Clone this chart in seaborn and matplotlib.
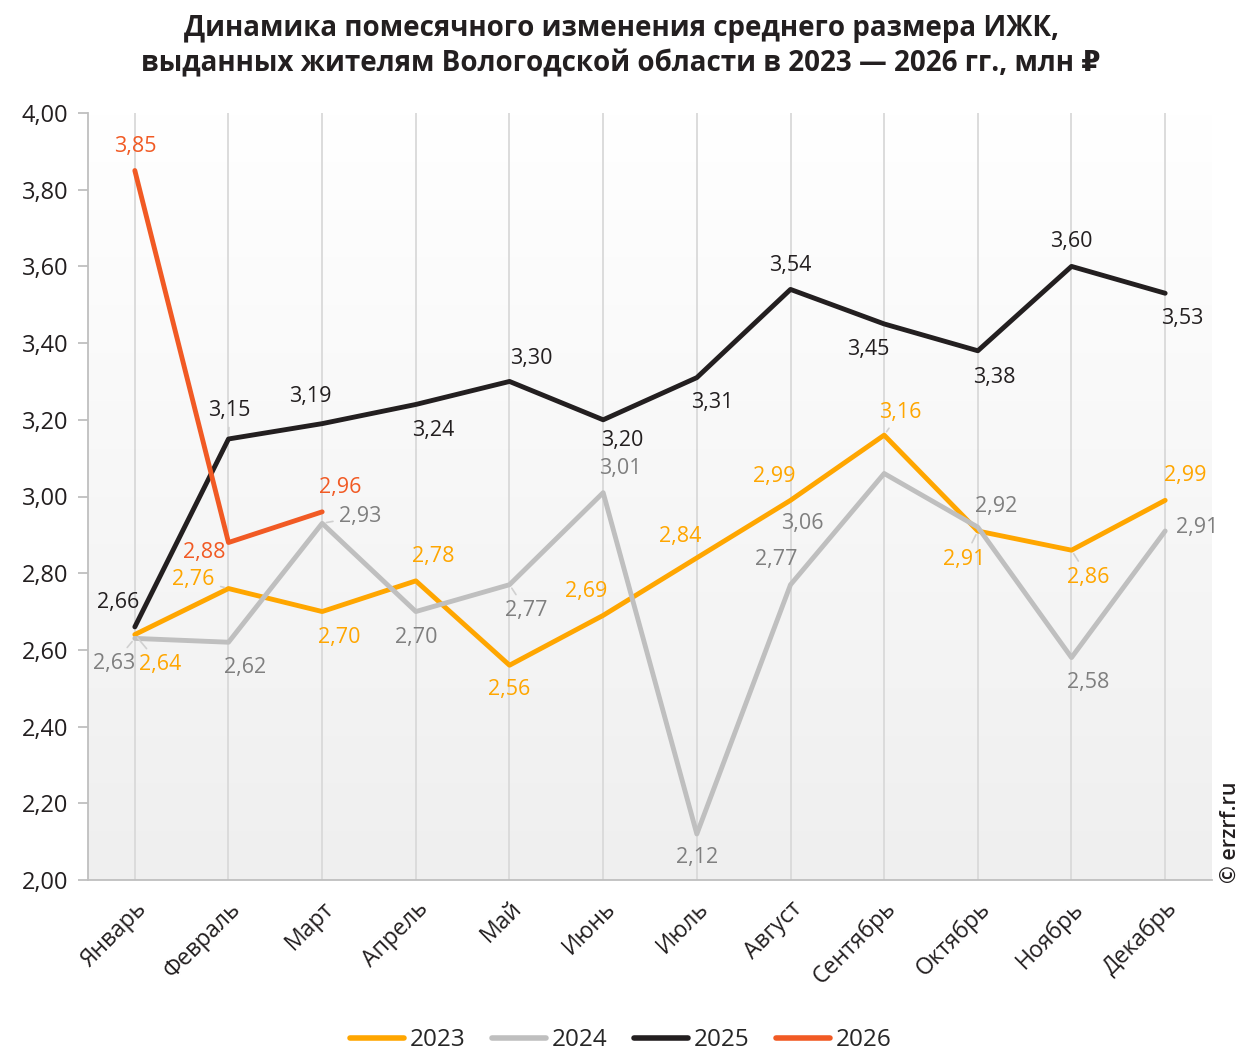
import numpy as np
import pandas as pd
import seaborn as sns
import matplotlib.pyplot as plt
from matplotlib.colors import LinearSegmentedColormap

# Данные
months = ['Январь', 'Февраль', 'Март', 'Апрель', 'Май', 'Июнь', 'Июль',
          'Август', 'Сентябрь', 'Октябрь', 'Ноябрь', 'Декабрь']
years = ['2023', '2024', '2025', '2026']
v2023 = [2.64, 2.76, 2.70, 2.78, 2.56, 2.69, 2.84, 2.99, 3.16, 2.91, 2.86, 2.99]
v2024 = [2.63, 2.62, 2.93, 2.70, 2.77, 3.01, 2.12, 2.77, 3.06, 2.92, 2.58, 2.91]
v2025 = [2.66, 3.15, 3.19, 3.24, 3.30, 3.20, 3.31, 3.54, 3.45, 3.38, 3.60, 3.53]
v2026 = [3.85, 2.88, 2.96]

colors = {'2023': '#FFA600', '2024': '#BFBFBF', '2025': '#231F20', '2026': '#F15A24'}
label_colors = {'2023': '#FFA600', '2024': '#7F7F7F', '2025': '#231F20', '2026': '#F15A24'}

# смещения подписей (пиксели, ось y вниз)
off2023 = [(25, 30), (-35, -9), (17, 26), (17, -24), (0, 24), (-17, -24),
           (-17, -21), (-16, -24), (16, -23), (-14, 28), (17, 27), (20, -25)]
off2024 = [(-21, 25), (17, 25), (38, -7), (0, 26), (17, 26), (17, -24),
           (0, 24), (-14, -25), (-82, 50), (18, -21), (17, 25), (32, -4)]
off2025 = [(-17, -24), (1, -28), (-12, -27), (17, 26), (22, -23), (19, 21),
           (15, 25), (0, -24), (-16, 26), (16, 27), (0, -25), (17, 25)]
off2026 = [(0, -24), (-24, 10), (18, -24)]
leaders = {'2023': [0, 1, 8, 9, 10], '2024': [0, 2, 4], '2025': [1], '2026': []}

series = {'2023': v2023, '2024': v2024, '2025': v2025, '2026': v2026}
offsets = {'2023': off2023, '2024': off2024, '2025': off2025, '2026': off2026}

rows = []
for y in years:
    for i, v in enumerate(series[y]):
        rows.append({'month': i, 'value': v, 'year': y})
df = pd.DataFrame(rows)

sns.set_theme(style='white')
plt.rcParams['font.family'] = ['Open Sans', 'DejaVu Sans']
text_color = '#231F20'

fig = plt.figure(figsize=(12.42, 10.5), dpi=100)
ax = fig.add_axes([88 / 1242, 1 - 880 / 1050, 1124 / 1242, 767 / 1050])

# градиентный фон: сверху белый, снизу светло-серый
grad = np.linspace(0, 1, 256).reshape(-1, 1)
bg = LinearSegmentedColormap.from_list('bg', ['#EFEFEF', '#FFFFFF'])
ax.imshow(grad, extent=(-0.5, 11.5, 2.0, 4.0), aspect='auto', origin='lower',
          cmap=bg, zorder=0)

for i in range(len(months)):
    ax.axvline(i, color='#D9D9D9', lw=1.3, zorder=1)

sns.lineplot(data=df, x='month', y='value', hue='year', hue_order=years,
             palette=colors, linewidth=3.5, ax=ax, zorder=3,
             solid_capstyle='round')

for y in years:
    for i, v in enumerate(series[y]):
        dx, dy = offsets[y][i]
        arrow = None
        if i in leaders[y]:
            arrow = dict(arrowstyle='-', color='#D0D0D0', lw=1.2,
                         shrinkA=2, shrinkB=3)
        ax.annotate(f'{v:.2f}'.replace('.', ','), (i, v), xytext=(dx, -dy),
                    textcoords='offset pixels', ha='center', va='center',
                    fontsize=15.5, color=label_colors[y], arrowprops=arrow,
                    zorder=5)

ax.set_xlim(-0.5, 11.5)
ax.set_ylim(2.0, 4.0)
yt = np.arange(2.0, 4.01, 0.2)
ax.set_yticks(yt)
ax.set_yticklabels([f'{t:.2f}'.replace('.', ',') for t in yt],
                   fontsize=17, color=text_color)
ax.set_xticks(range(12))
ax.set_xticklabels(months, rotation=45, ha='right', rotation_mode='anchor',
                   fontsize=16.5, color=text_color)
ax.set_xticks(np.arange(-0.5, 12, 1), minor=True)
ax.tick_params(axis='x', which='major', length=0, pad=12)
ax.tick_params(axis='x', which='minor', length=6, color='#BFBFBF', width=1.3,
               direction='out')
ax.tick_params(axis='y', length=7, color='#BFBFBF', width=1.3, direction='out',
               left=True, pad=7)
ax.set_xlabel('')
ax.set_ylabel('')
for s in ['top', 'right']:
    ax.spines[s].set_visible(False)
for s in ['left', 'bottom']:
    ax.spines[s].set_color('#BFBFBF')
    ax.spines[s].set_linewidth(1.3)

handles, labels = ax.get_legend_handles_labels()
for h in handles:
    h.set_linewidth(4)
    h.set_solid_capstyle('round')
ax.legend(handles, labels, loc='center', bbox_to_anchor=(0.474, -0.209),
          ncol=4, frameon=False, fontsize=17.5, handlelength=2.2,
          columnspacing=1.1, handletextpad=0.25)

fig.text(0.5, 1 - 46 / 1050,
         'Динамика помесячного изменения среднего размера ИЖК,\n'
         'выданных жителям Вологодской области в 2023 — 2026 гг., млн ₽',
         ha='center', va='center', fontsize=20, fontweight='bold',
         color=text_color, linespacing=1.3)
fig.text(1230 / 1242, 1 - 832 / 1050, '© erzrf.ru', rotation=90,
         ha='center', va='center', fontsize=15.5, color=text_color,
         fontweight='semibold')

fig.savefig('out.png', dpi=100)
